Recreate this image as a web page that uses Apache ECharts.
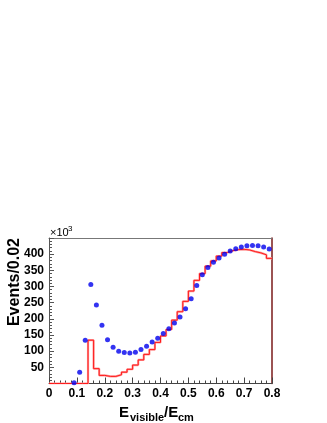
<!DOCTYPE html>
<html><head><meta charset="utf-8">
<script src="https://cdn.jsdelivr.net/npm/echarts@6/dist/echarts.min.js"></script>
<style>html,body{margin:0;padding:0;background:#fff}#c{width:327px;height:423px}</style>
</head><body><div id="c"></div>
<script>
// Blue points: bin centres and values (x10^3 events per 0.02)
var blueX = [0.09,0.11,0.13,0.15,0.17,0.19,0.21,0.23,0.25,0.27,0.29,0.31,0.33,0.35,0.37,0.39,0.41,0.43,0.45,0.47,0.49,0.51,0.53,0.55,0.57,0.59,0.61,0.63,0.65,0.67,0.69,0.71,0.73,0.75,0.77,0.79];
var blueY = [2,35,134,306,243,180,135,112,100,96,94,97,105,115,128,140,155,169,187,206,231,262,303,336,359,375,388,400,410,417,422,426,427,426,422,416];
// Red histogram: bin lower edges and contents
var redEdges = [0.00,0.02,0.04,0.06,0.08,0.10,0.12,0.14,0.16,0.18,0.20,0.22,0.24,0.26,0.28,0.30,0.32,0.34,0.36,0.38,0.40,0.42,0.44,0.46,0.48,0.50,0.52,0.54,0.56,0.58,0.60,0.62,0.64,0.66,0.68,0.70,0.72,0.74,0.76,0.78];
var redY = [0,0,0,0,0,0,0,134,46,25,22,22,27,35,44,57,73,90,105,127,147,167,196,222,254,286,319,340,363,379,394,405,411,414,415,413,408,404,398,387];
var histEnd = 0.80;
var xTickLabels = ['0','0.1','0.2','0.3','0.4','0.5','0.6','0.7','0.8'];
var yTickLabels = [50,100,150,200,250,300,350,400];

var redData = redEdges.map(function(e,i){return [e, redY[i]];});
redData.push([histEnd, redY[redY.length-1]]);
var blueData = blueX.map(function(x,i){return [x, blueY[i]];});

var chart = echarts.init(document.getElementById('c'), null, {renderer:'canvas'});
var lab = {fontFamily:'Liberation Sans, Arial, sans-serif', fontWeight:'bold', fontSize:12, color:'#000'};
chart.setOption({
  animation:false,
  grid:{left:49, right:55, top:238, bottom:39.5, containLabel:false},
  xAxis:[{
    type:'value', min:0, max:0.8, interval:0.1,
    axisLine:{onZero:false, lineStyle:{color:'#444', width:1}},
    axisTick:{inside:true, length:6, lineStyle:{color:'#444'}},
    minorTick:{show:true, splitNumber:5, length:3, lineStyle:{color:'#444'}},
    splitLine:{show:false},
    axisLabel:Object.assign({margin:4, showMinLabel:true, showMaxLabel:true,
      formatter:function(v){return xTickLabels[Math.round(v*10)] || '';}}, lab)
  },{
    type:'value', position:'top', min:0, max:0.8,
    axisLine:{show:true, onZero:false, lineStyle:{color:'#777'}}, axisTick:{show:false}, axisLabel:{show:false}, splitLine:{show:false}
  }],
  yAxis:[{
    type:'value', min:0, max:450, interval:50,
    axisLine:{show:true, onZero:false, lineStyle:{color:'#555', width:1}},
    axisTick:{inside:true, length:5, lineStyle:{color:'#555'}},
    minorTick:{show:true, splitNumber:5, length:3, lineStyle:{color:'#555'}},
    splitLine:{show:false},
    axisLabel:Object.assign({margin:5,
      formatter:function(v){return yTickLabels.indexOf(v)>=0 ? String(v) : '';}}, lab)
  },{
    type:'value', position:'right', min:0, max:450,
    axisLine:{show:true, onZero:false, lineStyle:{color:'#7a1a1a', width:1.5}}, axisTick:{show:false}, axisLabel:{show:false}, splitLine:{show:false}
  }],
  series:[{
    type:'line', step:'end', data:redData, symbol:'none', z:2,
    lineStyle:{color:'#ff9a9a', width:2.2}
  },{
    type:'line', step:'end', data:redData, symbol:'none', z:3,
    lineStyle:{color:'#ff1a1a', width:1}
  },{
    type:'scatter', data:blueData, symbol:'circle', symbolSize:5, z:4,
    itemStyle:{color:'#0000ee'}
  }],
  graphic:[
    {type:'text', x:15, y:238, rotation:Math.PI/2,
     style:{text:'Events/0.02', fontFamily:'Liberation Sans, Arial, sans-serif', fontWeight:'bold', fontSize:16, fill:'#000', textAlign:'right', textVerticalAlign:'middle'}},
    {type:'text', x:50, y:238, style:{text:'×10', fontFamily:'Liberation Sans, Arial, sans-serif', fontSize:11, fill:'#000', textAlign:'left', textVerticalAlign:'bottom'}},
    {type:'text', x:68, y:233, style:{text:'3', fontFamily:'Liberation Sans, Arial, sans-serif', fontSize:8, fill:'#000', textAlign:'left', textVerticalAlign:'bottom'}},
    {type:'text', x:119, y:420, style:{text:'E', fontFamily:'Liberation Sans, Arial, sans-serif', fontWeight:'bold', fontSize:15, fill:'#000', textAlign:'left', textVerticalAlign:'bottom'}},
    {type:'text', x:130, y:423, style:{text:'visible', fontFamily:'Liberation Sans, Arial, sans-serif', fontWeight:'bold', fontSize:11, fill:'#000', textAlign:'left', textVerticalAlign:'bottom'}},
    {type:'text', x:164, y:420, style:{text:'/E', fontFamily:'Liberation Sans, Arial, sans-serif', fontWeight:'bold', fontSize:15, fill:'#000', textAlign:'left', textVerticalAlign:'bottom'}},
    {type:'text', x:178, y:423, style:{text:'cm', fontFamily:'Liberation Sans, Arial, sans-serif', fontWeight:'bold', fontSize:11, fill:'#000', textAlign:'left', textVerticalAlign:'bottom'}}
  ]
});
</script></body></html>
